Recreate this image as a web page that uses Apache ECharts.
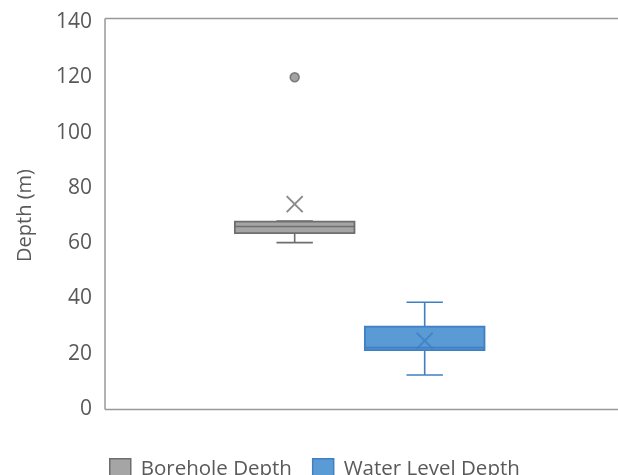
<!DOCTYPE html>
<html>
<head>
<meta charset="utf-8">
<title>Depth box plot</title>
<script src="https://cdn.jsdelivr.net/npm/echarts@6/dist/echarts.min.js"></script>
<style>
    html, body { margin: 0; padding: 0; background: #fff; }
    #chart { width: 618px; height: 475px; }
</style>
</head>
<body>
<div id="chart"></div>
<script>
// 数据
const categories = ['Borehole Depth', 'Water Level Depth'];
const minValues = [60.2, 12.3];
const q1Values = [63.6, 21.3];
const medianValues = [66.0, 22.2];
const q3Values = [67.8, 29.8];
const maxValues = [68.0, 38.6];
const meanValues = [74.1, 24.7];
const outliers = [[0, 120]];
const yTicks = { min: 0, max: 140, interval: 20 };

const fills = ['#a5a5a5', '#5b9bd5'];
const lines = ['#6e6e6e', '#3f7fc3'];
const font = '"Open Sans", "Noto Sans", sans-serif';

function renderBox(params, api) {
    const x = api.value(0);
    const pMin = api.coord([x, api.value(1)]);
    const pQ1 = api.coord([x, api.value(2)]);
    const pMed = api.coord([x, api.value(3)]);
    const pQ3 = api.coord([x, api.value(4)]);
    const pMax = api.coord([x, api.value(5)]);
    const boxW = api.size([0.92, 0])[0];
    const capW = api.size([0.28, 0])[0];
    const cx = pMed[0];
    const stroke = lines[x];
    const lineStyle = { stroke: stroke, lineWidth: 1.6, fill: null };
    return {
        type: 'group',
        children: [
            // 上须
            { type: 'line', shape: { x1: cx, y1: pQ3[1], x2: cx, y2: pMax[1] }, style: lineStyle },
            { type: 'line', shape: { x1: cx - capW / 2, y1: pMax[1], x2: cx + capW / 2, y2: pMax[1] }, style: lineStyle },
            // 下须
            { type: 'line', shape: { x1: cx, y1: pQ1[1], x2: cx, y2: pMin[1] }, style: lineStyle },
            { type: 'line', shape: { x1: cx - capW / 2, y1: pMin[1], x2: cx + capW / 2, y2: pMin[1] }, style: lineStyle },
            // 箱体
            {
                type: 'rect',
                shape: { x: cx - boxW / 2, y: pQ3[1], width: boxW, height: pQ1[1] - pQ3[1] },
                style: { fill: fills[x], stroke: stroke, lineWidth: 1.8 }
            },
            // 中位数
            { type: 'line', shape: { x1: cx - boxW / 2, y1: pMed[1], x2: cx + boxW / 2, y2: pMed[1] }, style: lineStyle }
        ]
    };
}

const boxSeries = categories.map((name, i) => ({
    name: name,
    type: 'custom',
    renderItem: renderBox,
    itemStyle: { color: fills[i], borderColor: lines[i] },
    encode: { x: 0, y: [1, 2, 3, 4, 5] },
    data: [[i, minValues[i], q1Values[i], medianValues[i], q3Values[i], maxValues[i]]],
    z: 2
}));

const meanSeries = {
    name: 'Mean',
    type: 'scatter',
    symbol: 'path://M0,0L16,16M16,0L0,16',
    symbolSize: 16,
    data: meanValues.map((v, i) => ({
        value: [i, v],
        itemStyle: { color: 'none', borderColor: lines[i], borderWidth: 2 }
    })),
    z: 5
};

const outlierSeries = {
    name: 'Outlier',
    type: 'scatter',
    symbol: 'circle',
    symbolSize: 9,
    itemStyle: { color: '#8c8c8c', borderColor: '#666', borderWidth: 1.5 },
    data: outliers,
    z: 5
};

// 绘图区边框: 上、左、下三边
const frameStyle = { stroke: '#999', lineWidth: 1.5 };

const chart = echarts.init(document.getElementById('chart'));
chart.setOption({
    animation: false,
    backgroundColor: '#fff',
    grid: {
        left: 105,
        right: 0,
        top: 22,
        bottom: 66
    },
    graphic: [
        { type: 'line', shape: { x1: 105, y1: 18.5, x2: 618, y2: 18.5 }, style: frameStyle, silent: true },
        { type: 'line', shape: { x1: 105, y1: 18.5, x2: 105, y2: 409.5 }, style: frameStyle, silent: true },
        { type: 'line', shape: { x1: 105, y1: 409.5, x2: 618, y2: 409.5 }, style: frameStyle, silent: true }
    ],
    legend: {
        data: categories.map((name, i) => ({
            name: name,
            icon: 'rect',
            itemStyle: { color: fills[i], borderColor: lines[i], borderWidth: 1.5 }
        })),
        top: 453,
        left: 104,
        itemWidth: 21,
        itemHeight: 20,
        itemGap: 20,
        textStyle: { fontSize: 20.5, color: '#595959', fontFamily: font, padding: [0, 0, 0, 5] }
    },
    xAxis: {
        type: 'value',
        min: -1.459,
        max: 2.487,
        show: false
    },
    yAxis: {
        type: 'value',
        min: yTicks.min,
        max: yTicks.max,
        interval: yTicks.interval,
        name: 'Depth (m)',
        nameLocation: 'middle',
        nameGap: 70,
        nameTextStyle: { fontSize: 20, color: '#595959', fontFamily: font },
        axisLine: { show: false },
        axisTick: { show: false },
        splitLine: { show: false },
        axisLabel: { fontSize: 21, color: '#595959', fontFamily: font, margin: 13 }
    },
    series: [...boxSeries, meanSeries, outlierSeries]
});
</script>
</body>
</html>
